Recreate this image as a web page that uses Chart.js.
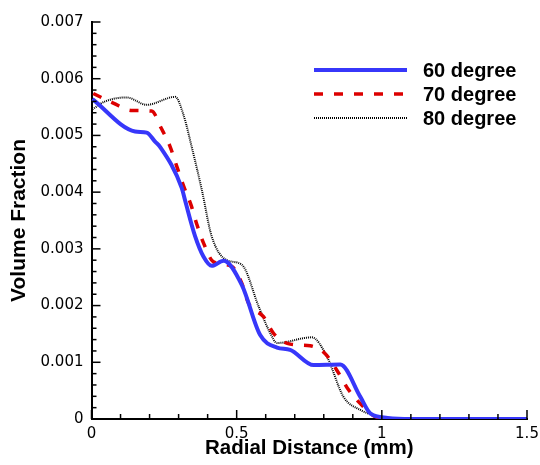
<!DOCTYPE html>
<html><head><meta charset="utf-8">
<script src="https://cdn.jsdelivr.net/npm/chart.js@4/dist/chart.umd.min.js"></script>
<style>html,body{margin:0;padding:0;background:#fff}#wrap{width:540px;height:465px}</style>
</head><body><div id="wrap"><canvas id="c" width="540" height="465"></canvas></div>
<script>
const seriesNames = ["60 degree", "70 degree", "80 degree"];
const x60 = [0.003,0.15,0.19,0.219,0.236,0.311,0.322,0.357,0.386,0.414,0.455,0.518,0.581,0.639,0.684,0.765,0.857,0.926,0.96,1.02,1.1,1.5];
const y60 = [0.00564,0.00507,0.00505,0.00489,0.0048,0.00407,0.00386,0.00322,0.00286,0.0027,0.00279,0.00236,0.00148,0.00126,0.00122,0.00095,0.00096,0.00039,0.0001,0.00002,0,0];
const x70 = [0.006,0.075,0.139,0.207,0.24,0.271,0.294,0.317,0.343,0.363,0.386,0.42,0.483,0.518,0.541,0.593,0.627,0.684,0.753,0.805,0.845,0.886,0.93,0.978,1.03,1.5];
const y70 = [0.00574,0.00557,0.00544,0.00543,0.00513,0.0048,0.00445,0.00411,0.00377,0.00343,0.0031,0.00277,0.00269,0.00239,0.00204,0.0018,0.00151,0.00132,0.00129,0.00115,0.00086,0.00051,0.00025,0.00004,0,0];
const x80 = [0.003,0.047,0.121,0.19,0.288,0.317,0.345,0.38,0.414,0.466,0.518,0.576,0.616,0.639,0.759,0.811,0.868,0.926,0.983,1.03,1.5];
const y80 = [0.00546,0.0056,0.00567,0.00554,0.00568,0.00536,0.0048,0.00404,0.00322,0.0028,0.00272,0.00198,0.00151,0.00134,0.00144,0.0011,0.00039,0.00016,0.00005,0,0];
const xTicks = [0, 0.5, 1, 1.5];
const yTicks = [0, 0.001, 0.002, 0.003, 0.004, 0.005, 0.006, 0.007];

const pts = (xs, ys) => xs.map((x, i) => ({x, y: ys[i]}));
const TICKFONT = '"DejaVu Sans", "Liberation Sans", sans-serif';
const BOLDFONT = '"Liberation Sans", Arial, sans-serif';

const tickPlugin = {
  id: 'insideTicks',
  afterDraw(chart) {
    const ctx = chart.ctx, xs = chart.scales.x, ys = chart.scales.y, a = chart.chartArea;
    ctx.save();
    ctx.strokeStyle = '#000';
    ctx.lineWidth = 1.5;
    for (let i = 0; i <= 15; i++) {
      const v = i / 10, px = xs.getPixelForValue(v), major = i % 5 === 0;
      ctx.beginPath(); ctx.moveTo(px, a.bottom); ctx.lineTo(px, a.bottom - (major ? 9 : 5)); ctx.stroke();
    }
    for (let i = 0; i <= 35; i++) {
      const v = i * 0.0002, py = ys.getPixelForValue(v), major = i % 5 === 0;
      ctx.beginPath(); ctx.moveTo(a.left, py); ctx.lineTo(a.left + (major ? 9 : 5), py); ctx.stroke();
    }
    // legend
    const rows = [70, 94, 118];
    chart.data.datasets.forEach((ds, i) => {
      ctx.save();
      ctx.strokeStyle = ds.borderColor;
      ctx.lineWidth = ds.borderWidth;
      ctx.setLineDash(ds.borderDash || []);
      ctx.beginPath(); ctx.moveTo(314, rows[i]); ctx.lineTo(407, rows[i]); ctx.stroke();
      ctx.restore();
      ctx.fillStyle = '#000';
      ctx.font = 'bold 20px ' + BOLDFONT;
      ctx.textBaseline = 'middle';
      ctx.textAlign = 'left';
      ctx.fillText(ds.label, 423, rows[i] + 1);
    });
    ctx.restore();
  }
};

new Chart(document.getElementById('c'), {
  type: 'line',
  data: {
    datasets: [
      {label: seriesNames[0], data: pts(x60, y60), borderColor: 'rgb(55,55,250)', borderWidth: 4, pointRadius: 0, cubicInterpolationMode: 'monotone', fill: false},
      {label: seriesNames[1], data: pts(x70, y70), borderColor: 'rgb(220,0,0)', borderWidth: 3.5, borderDash: [9, 11], pointRadius: 0, cubicInterpolationMode: 'monotone', fill: false},
      {label: seriesNames[2], data: pts(x80, y80), borderColor: 'rgb(0,0,0)', borderWidth: 2, borderDash: [1, 1], pointRadius: 0, cubicInterpolationMode: 'monotone', fill: false}
    ]
  },
  options: {
    responsive: false,
    animation: false,
    layout: {padding: {top: 22, right: 0, left: 0, bottom: 0}},
    plugins: {legend: {display: false}, tooltip: {enabled: false}},
    scales: {
      x: {
        type: 'linear', min: 0, max: 1.5,
        afterBuildTicks: s => { s.ticks = xTicks.map(v => ({value: v})); },
        afterFit: s => { s.height = 46; s.paddingRight = 13; s.paddingLeft = 0; },
        grid: {display: false, drawTicks: false},
        border: {display: true, color: '#000', width: 2},
        ticks: {color: '#000', padding: 6, maxRotation: 0, font: {family: TICKFONT, size: 15},
          callback: v => String(v)},
        title: {display: true, text: 'Radial Distance (mm)', color: '#000', padding: {top: 0, bottom: 4},
          font: {family: BOLDFONT, size: 20.5, weight: 'bold'}}
      },
      y: {
        type: 'linear', min: 0, max: 0.007,
        afterBuildTicks: s => { s.ticks = yTicks.map(v => ({value: v})); },
        afterFit: s => { s.width = 91.5; s.paddingTop = 0; s.paddingBottom = 0; },
        grid: {display: false, drawTicks: false},
        border: {display: true, color: '#000', width: 2},
        ticks: {color: '#000', padding: 8, font: {family: TICKFONT, size: 15},
          callback: v => v === 0 ? '0' : v.toFixed(3)},
        title: {display: true, text: 'Volume Fraction', color: '#000', padding: {top: 7, bottom: 0},
          font: {family: BOLDFONT, size: 21, weight: 'bold'}}
      }
    }
  },
  plugins: [tickPlugin]
});
</script></body></html>
